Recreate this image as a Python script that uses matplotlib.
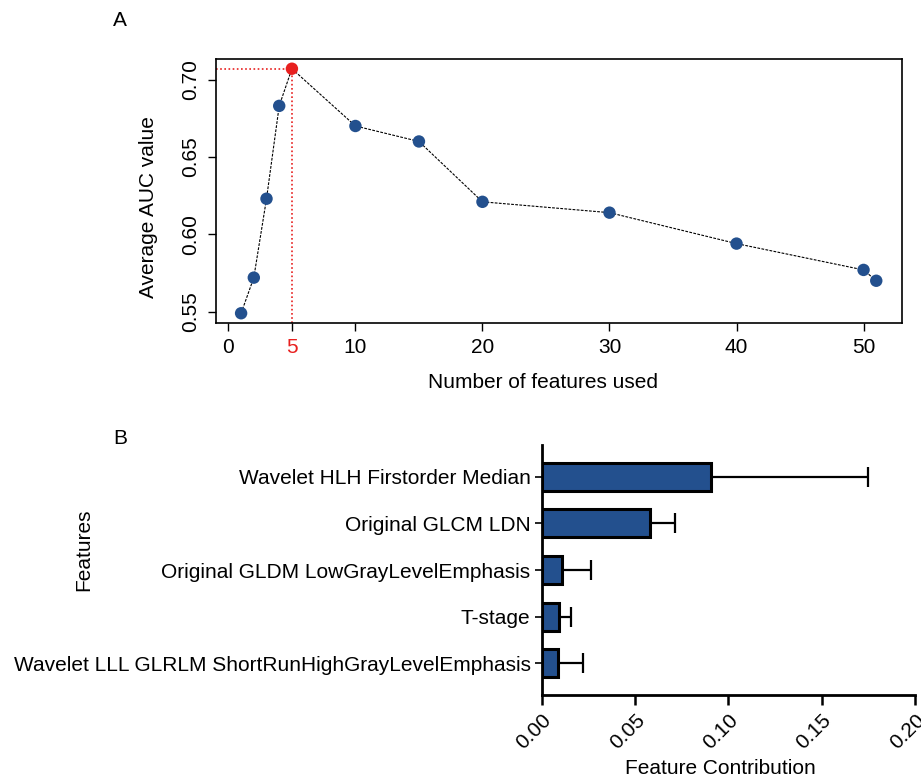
import matplotlib
matplotlib.use("Agg")
import matplotlib.pyplot as plt

plt.rcParams['font.family'] = ['Liberation Sans', 'DejaVu Sans']

# panel A data
n_features = [1, 2, 3, 4, 5, 10, 15, 20, 30, 40, 50, 51]
auc = [0.549, 0.572, 0.623, 0.683, 0.707, 0.670, 0.660, 0.621, 0.614, 0.594, 0.577, 0.570]
best_n = 5
best_auc = 0.707
x_ticks = [0, 5, 10, 20, 30, 40, 50]
y_ticks = [0.55, 0.60, 0.65, 0.70]

# panel B data
features = ["Wavelet HLH Firstorder Median",
            "Original GLCM LDN",
            "Original GLDM LowGrayLevelEmphasis",
            "T-stage",
            "Wavelet LLL GLRLM ShortRunHighGrayLevelEmphasis"]
contrib = [0.0907, 0.058, 0.011, 0.0091, 0.0086]
contrib_err = [0.0843, 0.0134, 0.0154, 0.0064, 0.0137]
b_ticks = [0.00, 0.05, 0.10, 0.15, 0.20]

blue = '#23508E'
red = '#E8201F'
fs = 15

fig = plt.figure(figsize=(9.21, 7.77), dpi=100)

# ---- panel A
ax1 = fig.add_axes([0.2342, 0.5843, 0.7448, 0.3398])
ax1.plot(n_features, auc, color='black', lw=0.8, ls=(0, (2.5, 1.2)), zorder=2)
cols = [red if n == best_n else blue for n in n_features]
ax1.scatter(n_features, auc, s=80, c=cols, zorder=3, linewidths=0)
ax1.set_xlim(-1, 53)
ax1.set_ylim(0.5427, 0.7133)
ax1.plot([-1, best_n], [best_auc, best_auc], color=red, lw=1.2, ls=(0, (1, 1.5)), zorder=1)
ax1.plot([best_n, best_n], [0.5427, best_auc], color=red, lw=1.2, ls=(0, (1, 1.5)), zorder=1)
ax1.set_xticks(x_ticks)
ax1.set_xticklabels([str(t) for t in x_ticks], fontsize=fs)
for lab in ax1.get_xticklabels():
    if lab.get_text() == str(best_n):
        lab.set_color(red)
ax1.set_yticks(y_ticks)
ax1.set_yticklabels(["%.2f" % t for t in y_ticks], fontsize=fs, rotation=90, va='center')
ax1.tick_params(direction='out', length=6, width=1, pad=5)
for s in ax1.spines.values():
    s.set_linewidth(1.2)
fig.text(543 / 921, 1 - 382 / 777, "Number of features used", ha='center', va='center', fontsize=fs)
fig.text(148 / 921, 1 - 207 / 777, "Average AUC value", ha='center', va='center', rotation=90, fontsize=fs)
fig.text(120 / 921, 1 - 20 / 777, "A", ha='center', va='center', fontsize=fs)

# ---- panel B
ax2 = fig.add_axes([0.5882, 0.1055, 0.4053, 0.3218])
ypos = list(range(len(features)))
ax2.barh(ypos, contrib, height=0.6, color=blue, edgecolor='black', linewidth=2.2, zorder=2)
ax2.errorbar(contrib, ypos, xerr=[[0] * len(contrib), contrib_err], fmt='none',
             ecolor='black', elinewidth=1.6, capsize=7, capthick=1.6, zorder=1)
ax2.set_ylim(4.68, -0.68)
ax2.set_xlim(0, 0.2)
ax2.set_yticks(ypos)
ax2.set_yticklabels(features, fontsize=fs)
ax2.set_xticks(b_ticks)
ax2.set_xticklabels(["%.2f" % t for t in b_ticks], fontsize=fs, rotation=45,
                    ha='right', rotation_mode='anchor')
ax2.tick_params(axis='x', direction='out', length=7, width=1.8, pad=4)
ax2.tick_params(axis='y', direction='out', length=5, width=1.2, pad=3)
ax2.spines['top'].set_visible(False)
ax2.spines['right'].set_visible(False)
ax2.spines['left'].set_linewidth(2)
ax2.spines['bottom'].set_linewidth(2)
fig.text(720 / 921, 1 - 768 / 777, "Feature Contribution", ha='center', va='center', fontsize=fs)
fig.text(84 / 921, 1 - 550 / 777, "Features", ha='center', va='center', rotation=90, fontsize=fs)
fig.text(120 / 921, 1 - 438 / 777, "B", ha='center', va='center', fontsize=fs)

fig.savefig("out.png", dpi=100)
